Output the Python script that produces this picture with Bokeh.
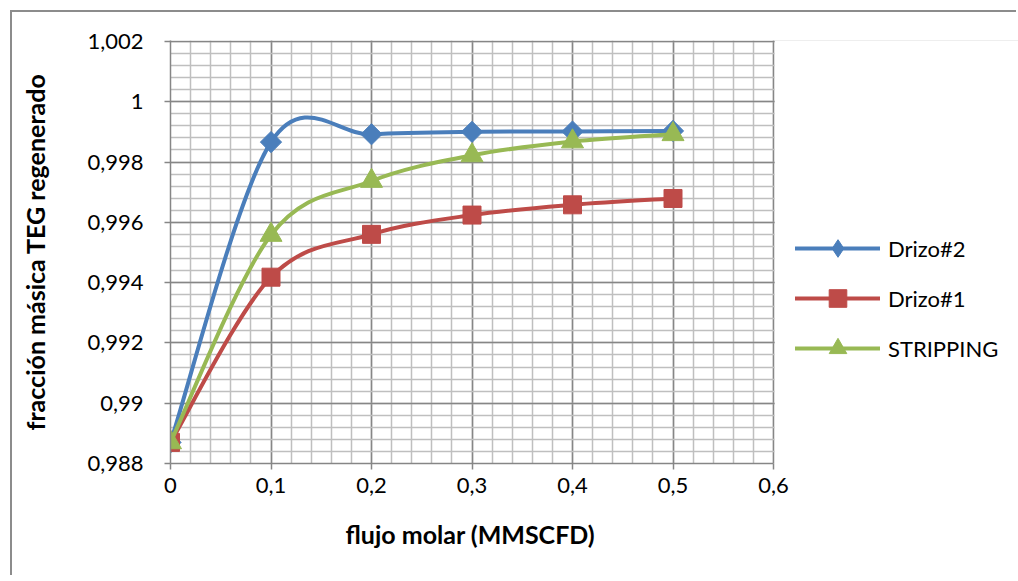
import numpy as np
from bokeh.plotting import figure
from bokeh.models import (ColumnDataSource, FixedTicker, CustomJSTickFormatter,
                          Legend, LegendItem, Range1d, BoxAnnotation, Title)
from bokeh.embed import file_html
from bokeh.resources import INLINE

# ---- data ----
flujo = [0.0, 0.1, 0.2, 0.3, 0.4, 0.5]
drizo2 = [0.98870, 0.99866, 0.99892, 0.99900, 0.99901, 0.99903]
drizo1 = [0.98870, 0.99418, 0.99560, 0.99624, 0.99658, 0.99679]
stripping = [0.98870, 0.99558, 0.99737, 0.99822, 0.99868, 0.99892]

x_ticks = [0.0, 0.1, 0.2, 0.3, 0.4, 0.5, 0.6]
y_ticks = [0.988, 0.990, 0.992, 0.994, 0.996, 0.998, 1.000, 1.002]

FONT = "Lato"
BLUE, RED, GREEN = "#4A7EBB", "#BE4B48", "#98B954"
MAJOR, MINOR = "#868686", "#BFBFBF"

W, H = 1006, 565
LEFT, TOP, BOTTOM = 158, 28, 114
# frame: 603 px for 0.6 on x; extended to the right edge to host the legend
FRAME_W = W - LEFT
X_END = 0.6 * FRAME_W / 603.0

p = figure(width=W, height=H, output_backend="svg", toolbar_location=None,
           x_range=Range1d(0, X_END), y_range=Range1d(0.988, 1.00203),
           min_border_left=LEFT, min_border_right=0, min_border_top=TOP,
           min_border_bottom=BOTTOM, margin=(12, 0, 0, 12))
# chart-area frame (top and left edges) without changing the element's size
p.styles = {"box-shadow": "-2px -2px 0px 0px #8C8C8C"}
p.border_fill_color = "white"
p.outline_line_color = None

minor_x = [round(i * 0.02, 4) for i in range(31)]
minor_y = [round(0.988 + i * 0.0004, 5) for i in range(36)]
p.xaxis.ticker = FixedTicker(ticks=x_ticks, minor_ticks=minor_x)
p.yaxis.ticker = FixedTicker(ticks=y_ticks, minor_ticks=minor_y)
p.xaxis.bounds = (0, 0.6)

fmt = CustomJSTickFormatter(code="""
    return parseFloat(tick.toFixed(3)).toString().replace('.', ',');
""")
p.xaxis.formatter = fmt
p.yaxis.formatter = fmt

for g in (p.xgrid, p.ygrid):
    g.grid_line_color = MAJOR
    g.grid_line_width = 1.5
    g.minor_grid_line_color = MINOR
    g.minor_grid_line_width = 1.5

# white cover to stop horizontal grid lines at x = 0.6
p.add_layout(BoxAnnotation(left=0.6012, fill_color="white", fill_alpha=1.0,
                           line_color=None, level="underlay"))

for ax in (p.xaxis, p.yaxis):
    ax.axis_line_color = MAJOR
    ax.axis_line_width = 1.5
    ax.major_tick_line_color = MAJOR
    ax.major_tick_line_width = 1.5
    ax.major_tick_out = 6
    ax.major_tick_in = 0
    ax.minor_tick_line_color = None
    ax.major_label_text_font = FONT
    ax.major_label_text_font_size = "22px"
    ax.major_label_text_color = "black"
    ax.axis_label_text_font = FONT
    ax.axis_label_text_font_size = "25px"
    ax.axis_label_text_font_style = "bold"
    ax.axis_label_text_color = "black"

p.yaxis.axis_label = "fracción másica TEG regenerado"
p.xaxis.major_label_standoff = 8
p.yaxis.major_label_standoff = 21
p.yaxis.axis_label_standoff = 34

# x-axis title, centred under the 0..0.6 span
p.add_layout(Title(text="flujo molar (MMSCFD)", align="left", offset=175,
                   text_font=FONT, text_font_size="25px", text_font_style="bold",
                   text_color="black", standoff=43), "below")


def smooth_segments(xs, ys):
    n = len(xs)
    P = [np.array([xs[i], ys[i]], dtype=float) for i in range(n)]
    d = dict(x0=[], y0=[], x1=[], y1=[], cx0=[], cy0=[], cx1=[], cy1=[])
    for i in range(n - 1):
        p0 = P[i - 1] if i > 0 else P[i]
        p1, p2 = P[i], P[i + 1]
        p3 = P[i + 2] if i + 2 < n else P[i + 1]
        c0 = p1 + (p2 - p0) / 6.0
        c1 = p2 - (p3 - p1) / 6.0
        d["x0"].append(p1[0]); d["y0"].append(p1[1])
        d["x1"].append(p2[0]); d["y1"].append(p2[1])
        d["cx0"].append(c0[0]); d["cy0"].append(c0[1])
        d["cx1"].append(c1[0]); d["cy1"].append(c1[1])
    return ColumnDataSource(d)


# (name, values, colour, marker, size, angle, legend marker)
series = [
    ("Drizo#2", drizo2, BLUE, "square", 15, np.pi / 4, "diamond"),
    ("Drizo#1", drizo1, RED, "square", 18, 0.0, "square"),
    ("STRIPPING", stripping, GREEN, "triangle", 22, 0.0, "triangle"),
]

items = []
for name, ys, col, marker, size, ang, lmarker in series:
    ln = p.bezier(x0="x0", y0="y0", x1="x1", y1="y1", cx0="cx0", cy0="cy0",
                  cx1="cx1", cy1="cy1", source=smooth_segments(flujo, ys),
                  line_color=col, line_width=4, line_cap="round")
    sc = p.scatter(flujo, ys, marker=marker, size=size, angle=ang,
                   fill_color=col, line_color=col, line_width=1)
    # legend-only marker (hidden on the plot)
    lg = p.scatter(flujo[:1], ys[:1], marker=lmarker, size=size,
                   fill_color=col, line_color=col, line_width=1, visible=False)
    items.append(LegendItem(label=name, renderers=[ln, lg]))

legend = Legend(items=items, location=(625, 93), padding=0, margin=0,
                glyph_width=85, glyph_height=44, label_height=44,
                spacing=6, label_standoff=8, border_line_color=None,
                background_fill_alpha=0, label_text_font=FONT,
                label_text_font_size="22px", label_text_color="black")
p.add_layout(legend, "center")

open("out.html", "w").write(file_html(p, INLINE))
